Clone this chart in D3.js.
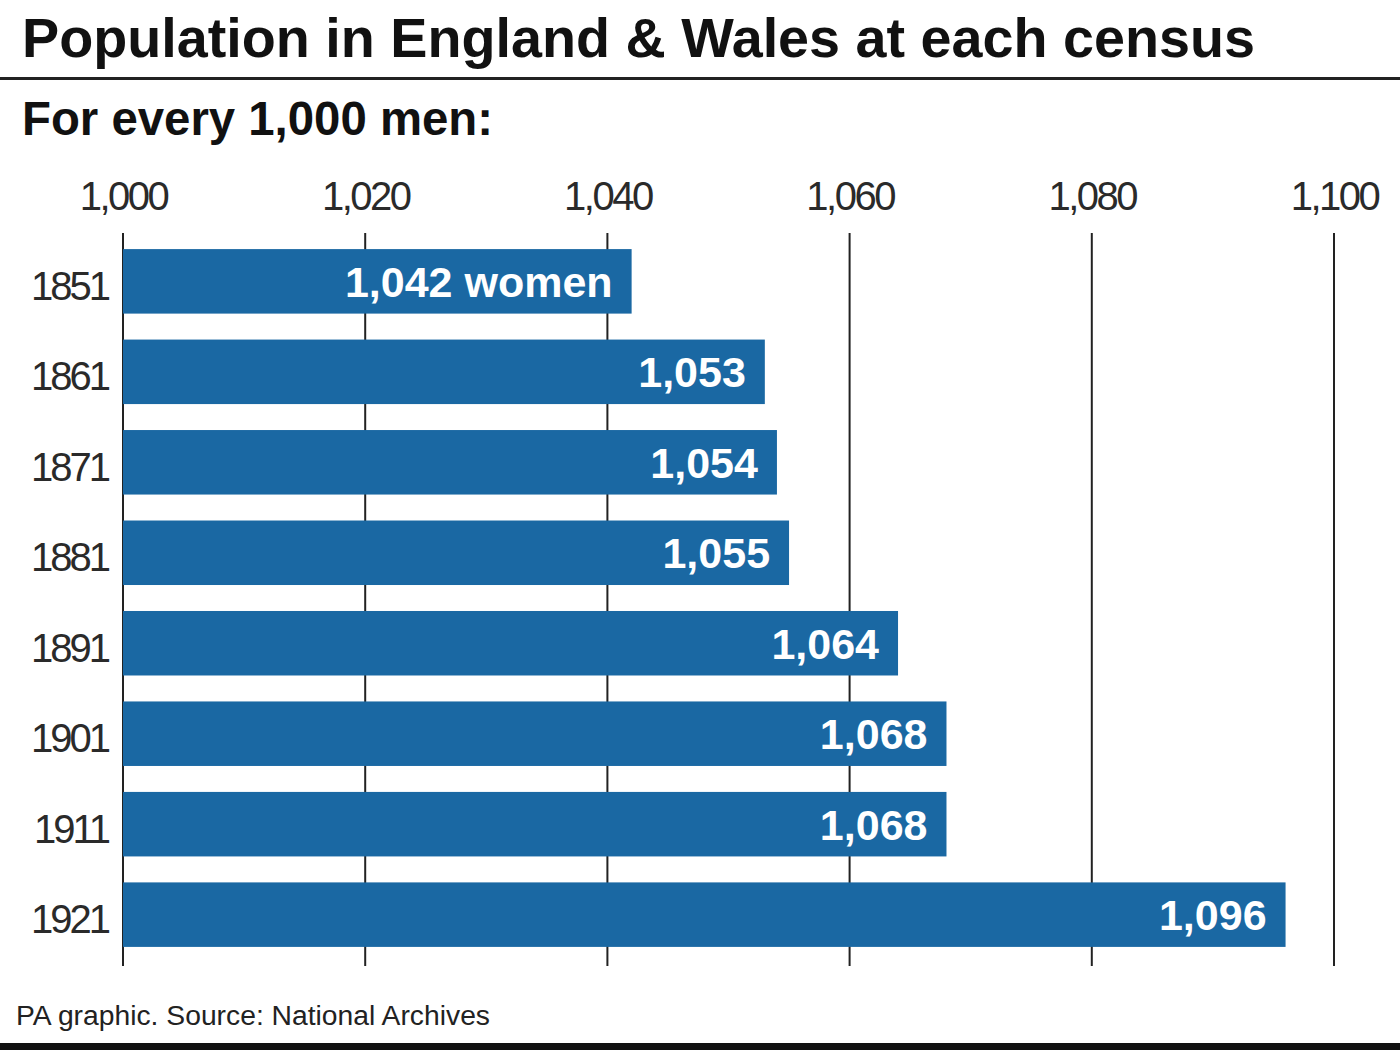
<!DOCTYPE html>
<html>
<head>
<meta charset="utf-8">
<script src="https://cdn.jsdelivr.net/npm/d3@7"></script>
<style>
  html, body { margin: 0; padding: 0; background: #fff; }
  svg { display: block; }
  text { font-family: "Liberation Sans", Arial, sans-serif; }
</style>
</head>
<body>
<script>
const years = ["1851", "1861", "1871", "1881", "1891", "1901", "1911", "1921"];
const values = [1042, 1053, 1054, 1055, 1064, 1068, 1068, 1096];
const tickValues = [1000, 1020, 1040, 1060, 1080, 1100];
const title = "Population in England & Wales at each census";
const subtitle = "For every 1,000 men:";
const footer = "PA graphic. Source: National Archives";

const W = 1400, H = 1050;
const svg = d3.select("body").append("svg").attr("width", W).attr("height", H);

const x = d3.scaleLinear().domain([1000, 1100]).range([123, 1334]);
const y = d3.scaleBand().domain(years).range([231, 965]).paddingInner(0.287).paddingOuter(0.2);

// Title
svg.append("text").attr("x", 22).attr("y", 57)
  .attr("font-size", 55).attr("font-weight", "bold").attr("fill", "#111")
  .attr("textLength", 1233).attr("lengthAdjust", "spacingAndGlyphs")
  .text(title);
svg.append("rect").attr("x", 0).attr("y", 77).attr("width", W).attr("height", 3).attr("fill", "#222");

// Subtitle
svg.append("text").attr("x", 22).attr("y", 135)
  .attr("font-size", 48).attr("font-weight", "bold").attr("fill", "#111")
  .attr("textLength", 471).attr("lengthAdjust", "spacingAndGlyphs")
  .text(subtitle);

// Gridlines
svg.append("g").selectAll("line").data(tickValues).join("line")
  .attr("x1", d => x(d)).attr("x2", d => x(d))
  .attr("y1", 233).attr("y2", 966)
  .attr("stroke", "#222").attr("stroke-width", 2);

// Top axis labels
const fmt = d3.format(",");
const axisG = svg.append("g").attr("transform", "translate(0,210)")
  .call(d3.axisTop(x).tickValues(tickValues).tickFormat(fmt).tickSize(0).tickPadding(0));
axisG.select(".domain").remove();
axisG.selectAll("text")
  .attr("font-family", "Liberation Sans, Arial, sans-serif")
  .attr("font-size", 40).attr("fill", "#2a2a2a").attr("dy", 0)
  .attr("letter-spacing", -2.5);

// Bars
svg.append("g").selectAll("rect").data(values).join("rect")
  .attr("x", x(1000))
  .attr("y", (d, i) => y(years[i]))
  .attr("width", d => x(d) - x(1000))
  .attr("height", y.bandwidth())
  .attr("fill", "#1a68a3");

// Year labels
const yAxisG = svg.append("g").attr("transform", "translate(108,0)")
  .call(d3.axisLeft(y).tickSize(0).tickPadding(0));
yAxisG.select(".domain").remove();
yAxisG.selectAll("text")
  .attr("font-family", "Liberation Sans, Arial, sans-serif")
  .attr("font-size", 40).attr("fill", "#2a2a2a").attr("dy", "0.46em")
  .attr("letter-spacing", -3);

// Value labels
svg.append("g").selectAll("text").data(values).join("text")
  .attr("x", d => x(d) - 19)
  .attr("y", (d, i) => y(years[i]) + y.bandwidth() / 2)
  .attr("dy", "0.36em")
  .attr("text-anchor", "end")
  .attr("font-size", 43).attr("font-weight", "bold").attr("fill", "#fff")
  .text((d, i) => i === 0 ? fmt(d) + " women" : fmt(d));

// Footer
svg.append("text").attr("x", 16).attr("y", 1025)
  .attr("font-size", 27).attr("fill", "#222")
  .attr("textLength", 474).attr("lengthAdjust", "spacingAndGlyphs")
  .text(footer);
svg.append("rect").attr("x", 0).attr("y", 1043).attr("width", W).attr("height", 7).attr("fill", "#111");
</script>
</body>
</html>
